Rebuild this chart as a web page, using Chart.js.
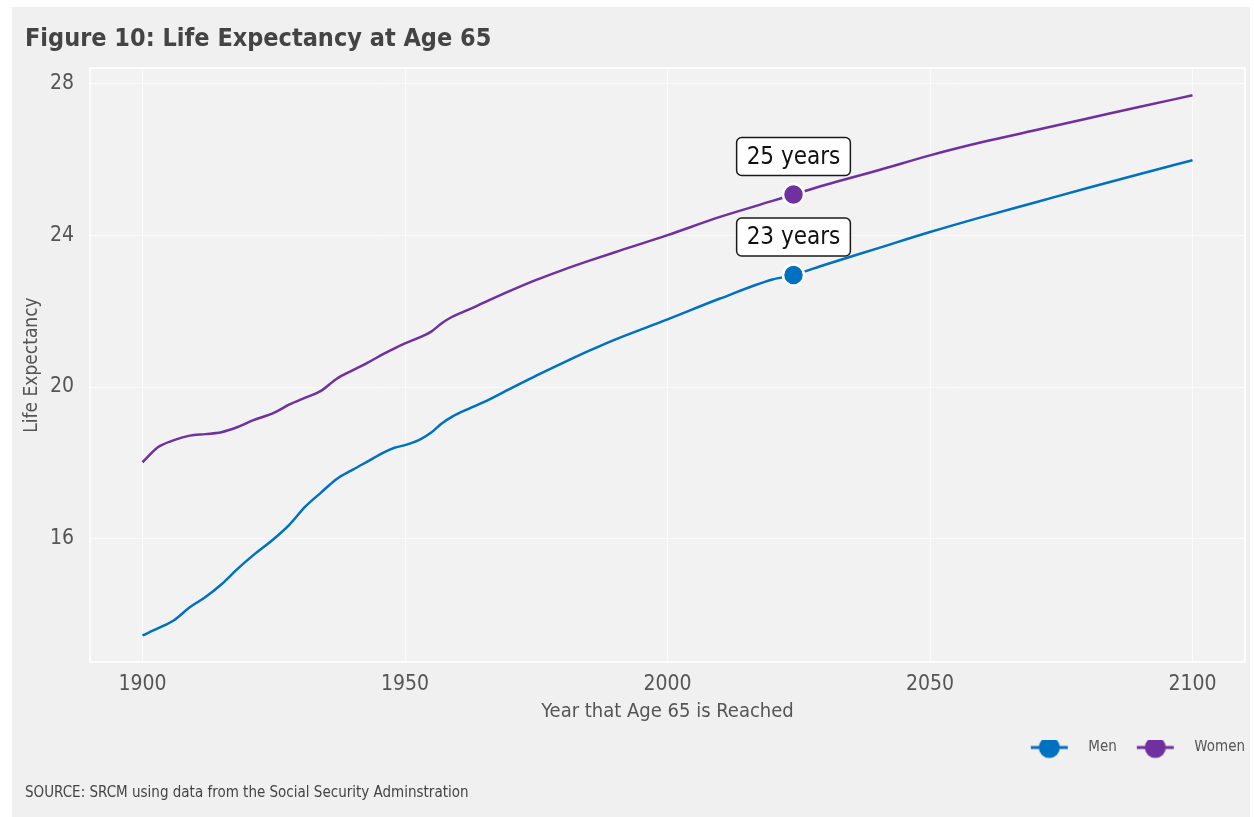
<!DOCTYPE html>
<html>
<head>
<meta charset="utf-8">
<title>Figure 10: Life Expectancy at Age 65</title>
<script src="https://cdn.jsdelivr.net/npm/chart.js@4.4.1/dist/chart.umd.min.js"></script>
<style>
  html, body { margin: 0; padding: 0; background: #fff; }
  #wrap { position: relative; width: 1254px; height: 817px; }
</style>
</head>
<body>
<div id="wrap"><canvas id="lifeChart" width="1254" height="817"></canvas></div>
<script>
// data (years at age 65, life expectancy in years)
const years = [1900, 1903, 1906, 1909, 1912, 1915, 1918, 1921, 1925, 1928,
               1931, 1934, 1937, 1940, 1943, 1946, 1948, 1950, 1953, 1955,
               1957, 1959, 1962, 1965, 1970, 1975, 1980, 1985, 1990, 2000, 2010,
               2020, 2024, 2030, 2040, 2050, 2060, 2070, 2080, 2090, 2100];
const menLE = [13.46, 13.65, 13.86, 14.20, 14.47, 14.80, 15.20, 15.56, 16.00, 16.38,
               16.85, 17.22, 17.58, 17.82, 18.05, 18.28, 18.40, 18.47, 18.63, 18.80,
               19.04, 19.22, 19.42, 19.60, 19.95, 20.30, 20.63, 20.95, 21.25, 21.78, 22.33,
               22.83, 22.95, 23.22, 23.65, 24.08, 24.48, 24.86, 25.24, 25.61, 25.97];
const womenLE = [18.02, 18.42, 18.60, 18.72, 18.76, 18.81, 18.94, 19.12, 19.32, 19.54,
                 19.72, 19.90, 20.22, 20.44, 20.65, 20.88, 21.02, 21.15, 21.32, 21.46,
                 21.68, 21.85, 22.03, 22.22, 22.53, 22.82, 23.08, 23.32, 23.55, 24.00, 24.48,
                 24.90, 25.07, 25.32, 25.70, 26.10, 26.45, 26.76, 27.07, 27.38, 27.68];
const seriesNames = ['Men', 'Women'];
const seriesColors = ['#0070c0', '#7030a0'];
const xTickValues = [1900, 1950, 2000, 2050, 2100];
const yTickValues = [16, 20, 24, 28];
const highlightYear = 2024;

const fontFamily = "'DejaVu Sans Condensed', 'Liberation Sans Narrow', sans-serif";
const greyText = '#555555';

// legend marker: short line with a dot, like the ggplot key
function makeMarker(color) {
  const c = document.createElement('canvas');
  c.width = 70; c.height = 24;
  const g = c.getContext('2d');
  g.strokeStyle = color;
  g.lineWidth = 3;
  g.beginPath(); g.moveTo(20, 12); g.lineTo(57, 12); g.stroke();
  g.fillStyle = color;
  g.beginPath(); g.arc(38.5, 12, 10.5, 0, Math.PI * 2); g.fill();
  return c;
}
const legendMarkers = seriesColors.map(makeMarker);

// page + panel background
const backdrop = {
  id: 'backdrop',
  beforeDraw(chart) {
    const {ctx, chartArea: a} = chart;
    ctx.save();
    ctx.fillStyle = '#ffffff';
    ctx.fillRect(0, 0, chart.width, chart.height);
    ctx.fillStyle = '#f0f0f0';
    ctx.fillRect(12, 7, chart.width - 16, chart.height - 7);
    ctx.fillStyle = '#f2f2f2';
    ctx.fillRect(a.left, a.top, a.right - a.left, a.bottom - a.top);
    ctx.restore();
  },
  beforeDatasetsDraw(chart) {
    const {ctx, chartArea: a} = chart;
    ctx.save();
    ctx.strokeStyle = '#ffffff';
    ctx.lineWidth = 1.5;
    ctx.strokeRect(a.left, a.top, a.right - a.left, a.bottom - a.top);
    ctx.restore();
  }
};

// "NN years" boxes above the highlighted points
const callouts = {
  id: 'callouts',
  afterDatasetsDraw(chart) {
    const ctx = chart.ctx;
    const idx = years.indexOf(highlightYear);
    chart.data.datasets.forEach((ds, i) => {
      const pt = chart.getDatasetMeta(i).data[idx];
      const label = Math.round(ds.data[idx]) + ' years';
      ctx.save();
      ctx.font = '24px ' + fontFamily;
      const w = ctx.measureText(label).width + 20;
      const h = 38;
      const cx = pt.x, cy = pt.y - 38;
      ctx.beginPath();
      ctx.roundRect(cx - w / 2, cy - h / 2, w, h, 5);
      ctx.fillStyle = '#ffffff';
      ctx.fill();
      ctx.lineWidth = 1.5;
      ctx.strokeStyle = '#1a1a1a';
      ctx.stroke();
      ctx.fillStyle = '#111111';
      ctx.textAlign = 'center';
      ctx.textBaseline = 'middle';
      ctx.fillText(label, cx, cy + 1);
      ctx.restore();
    });
  }
};

const pointSize = ctx => years[ctx.dataIndex] === highlightYear ? 10.5 : 0;

new Chart(document.getElementById('lifeChart'), {
  type: 'line',
  data: {
    labels: years,
    datasets: [menLE, womenLE].map((vals, i) => ({
      label: seriesNames[i],
      data: vals,
      borderColor: seriesColors[i],
      backgroundColor: seriesColors[i],
      borderWidth: 2.5,
      cubicInterpolationMode: 'monotone',
      pointRadius: pointSize,
      pointHoverRadius: pointSize,
      pointBorderColor: '#ffffff',
      pointBorderWidth: 2.5,
      fill: false
    }))
  },
  options: {
    responsive: false,
    animation: false,
    devicePixelRatio: 1,
    layout: { padding: { left: 25, right: 9, top: 0, bottom: 0 } },
    scales: {
      x: {
        type: 'linear',
        min: 1890,
        max: 2110,
        afterBuildTicks: s => { s.ticks = xTickValues.map(v => ({ value: v })); },
        afterFit: s => { s.height = 78; },
        grid: { color: '#fbfbfb', lineWidth: 1, drawTicks: false },
        border: { display: false },
        ticks: { color: greyText, font: { family: fontFamily, size: 21 }, padding: 10, callback: v => String(v) },
        title: {
          display: true,
          text: 'Year that Age 65 is Reached',
          color: greyText,
          font: { family: fontFamily, size: 20 },
          padding: { top: 0, bottom: 16 }
        }
      },
      y: {
        min: 12.76,
        max: 28.4,
        afterBuildTicks: s => { s.ticks = yTickValues.map(v => ({ value: v })); },
        afterFit: s => { s.width = 65; },
        grid: { color: '#fbfbfb', lineWidth: 1, drawTicks: false },
        border: { display: false },
        ticks: { color: greyText, font: { family: fontFamily, size: 21 }, padding: 16, callback: v => String(v) },
        title: {
          display: true,
          text: 'Life Expectancy',
          color: greyText,
          font: { family: fontFamily, size: 19 },
          padding: { top: -4.6, bottom: 0 }
        }
      }
    },
    plugins: {
      title: {
        display: true,
        text: 'Figure 10: Life Expectancy at Age 65',
        align: 'start',
        color: '#444444',
        font: { family: fontFamily, size: 25, weight: 'bold' },
        padding: { top: 24, bottom: 14 }
      },
      subtitle: {
        display: true,
        position: 'bottom',
        align: 'start',
        text: 'SOURCE: SRCM using data from the Social Security Adminstration',
        color: '#444444',
        font: { family: fontFamily, size: 15 },
        padding: { top: 19, bottom: 15 }
      },
      legend: {
        position: 'bottom',
        align: 'end',
        labels: {
          usePointStyle: true,
          pointStyleWidth: 70,
          padding: 0,
          color: greyText,
          font: { family: fontFamily, size: 15 },
          generateLabels: chart => Chart.defaults.plugins.legend.labels.generateLabels(chart)
            .map((item, i) => ({ ...item, pointStyle: legendMarkers[i] }))
        }
      },
      tooltip: { enabled: false }
    }
  },
  plugins: [backdrop, callouts]
});
</script>
</body>
</html>
